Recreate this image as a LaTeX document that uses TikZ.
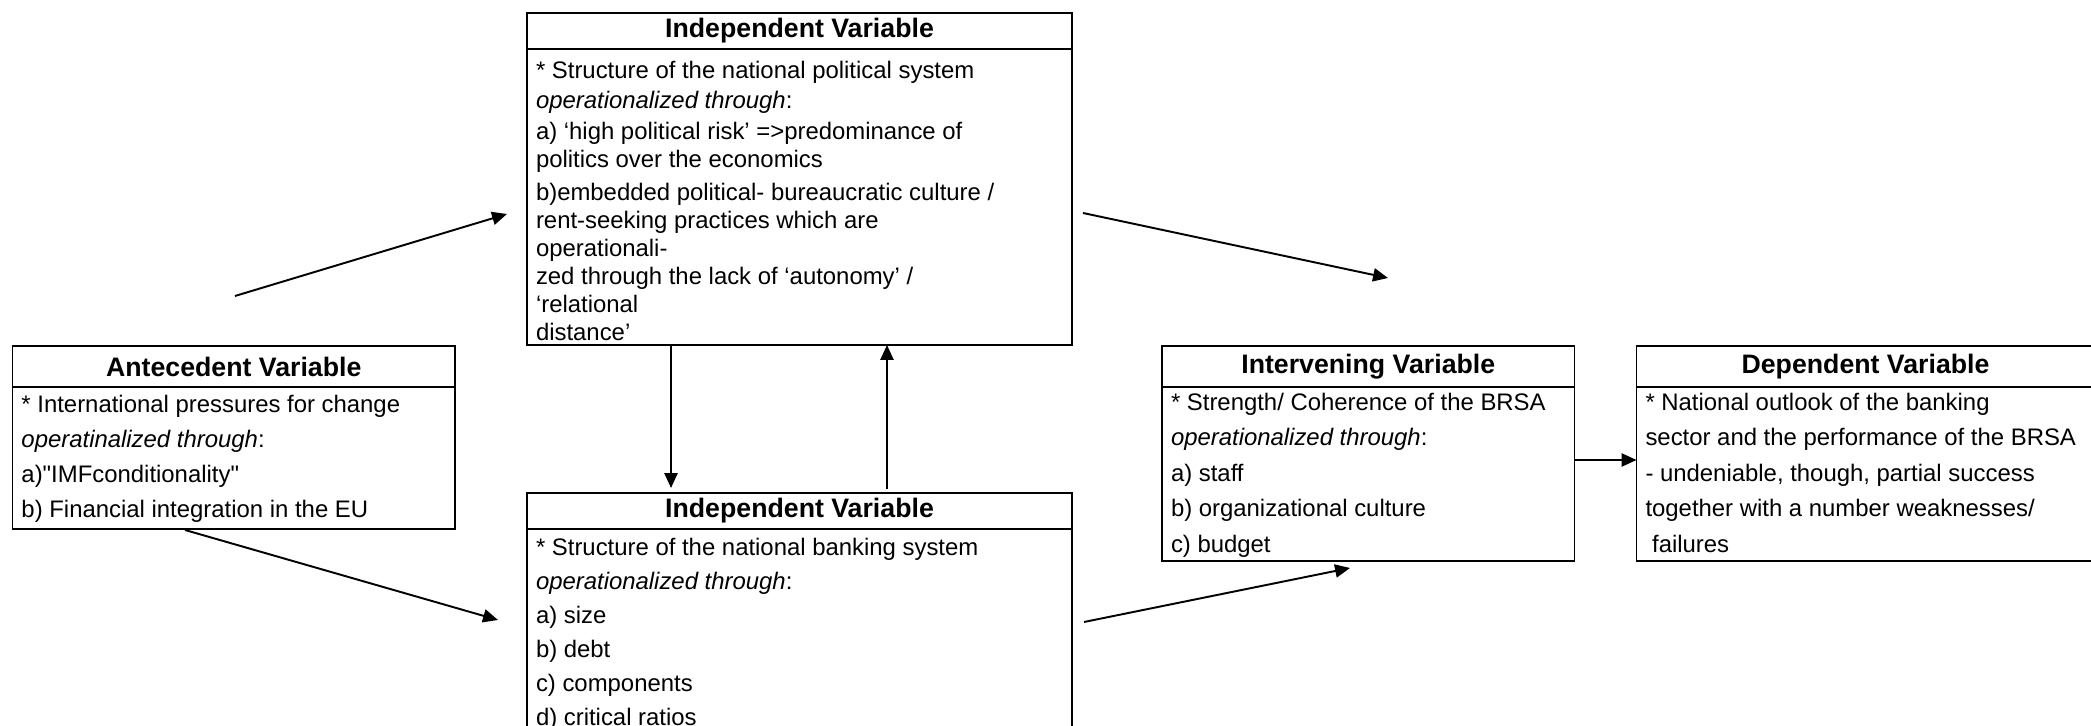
\documentclass[tikz,border=0pt]{standalone}
\usepackage{fontspec}
\setmainfont{Liberation Sans}
\usepackage{tikz}
\usetikzlibrary{arrows.meta, positioning, backgrounds}

\begin{document}
\begin{tikzpicture}[
		  background rectangle/.style={fill=white},
		  show background rectangle,
		  inner frame sep=0pt,
		  line width=1.1pt,
		  vartitle/.style={
		    draw,
		    inner sep=0pt,
		    outer sep=0pt,
		    minimum height=0.82cm,
		    font=\fontsize{15.2}{18}\selectfont\bfseries
		  },
		  varbody/.style={draw, inner sep=0pt, outer sep=0pt},
		  vartext/.style={align=left, inner sep=0pt, outer sep=0pt, font=\fontsize{13.6}{#1}\selectfont},
		  arrow/.style={-{Triangle[length=8.5pt,width=7.5pt]}, line width=1.1pt}
		]

		\useasboundingbox (0,0) rectangle (41.82,14.52);
		\clip (0,0) rectangle (41.82,14.52);

		% --- independent variable (politics) ---
		\node[vartitle, minimum width=10.9cm, minimum height=0.72cm, anchor=north west] (polit) at (10.54,14.26) {Independent Variable};
		\node[varbody, minimum width=10.9cm, minimum height=5.92cm, below=0pt of polit] (politbody) {};
		\node[vartext=15.9pt, below right=0.24cm and 0.18cm of politbody.north west] (polittext) {%
		  * Structure of the national political system\\[1.5pt]
		  \textit{operationalized through}:\\[1.5pt]
		  a) ‘high political risk’ =>predominance of\\
		  politics over the economics\\[3pt]
		  b)embedded political- bureaucratic culture /\\
		  rent-seeking practices which are\\
		  operationali-\\
		  zed through the lack of ‘autonomy’ /\\
		  ‘relational\\
		  distance’};

		% --- antecedent variable ---
		\node[vartitle, minimum width=8.85cm, below left=0.02cm and 1.44cm of politbody.south west] (ante) {Antecedent Variable};
		\node[varbody, minimum width=8.85cm, minimum height=2.84cm, below=0pt of ante] (antebody) {};
		\node[vartext=20pt, below right=0.16cm and 0.18cm of antebody.north west] (antetext) {%
		  * International pressures for change\\
		  \textit{operatinalized through}:\\
		  a)\textquotedbl IMFconditionality\textquotedbl\\
		  b) Financial integration in the EU};

		% --- independent variable (banking) ---
		\node[vartitle, minimum width=10.9cm, minimum height=0.72cm, below=2.96cm of politbody] (bank) {Independent Variable};
		\node[varbody, minimum width=10.9cm, minimum height=4.4cm, below=0pt of bank] (bankbody) {};
		\node[vartext=19.3pt, below right=0.19cm and 0.18cm of bankbody.north west] (banktext) {%
		  * Structure of the national banking system\\
		  \textit{operationalized through}:\\
		  a) size\\
		  b) debt\\
		  c) components\\
		  d) critical ratios};

		% --- intervening variable ---
		\node[vartitle, minimum width=8.25cm, below right=0.02cm and 1.8cm of politbody.south east] (interv) {Intervening Variable};
		\node[varbody, minimum width=8.25cm, minimum height=3.48cm, below=0pt of interv] (intervbody) {};
		\node[vartext=20.2pt, below right=0.12cm and 0.18cm of intervbody.north west] (intervtext) {%
		  * Strength/ Coherence of the BRSA\\
		  \textit{operationalized through}:\\
		  a) staff\\
		  b) organizational culture\\
		  c) budget};

		% --- dependent variable ---
		\node[vartitle, minimum width=9.16cm, right=1.24cm of interv] (dep) {Dependent Variable};
		\node[varbody, minimum width=9.16cm, minimum height=3.48cm, below=0pt of dep] (depbody) {};
		\node[vartext=20.2pt, below right=0.12cm and 0.18cm of depbody.north west] (deptext) {%
		  * National outlook of the banking\\
		  sector and the performance of the BRSA\\
		  - undeniable, though, partial success\\
		  together with a number weaknesses/\\
		  \ failures};

		% --- arrow ends ---
		\coordinate (anteout1) at (4.70,8.60);
		\coordinate (politin) at (10.14,10.24);
		\coordinate (anteout2) at (3.70,3.92);
		\coordinate (bankin) at (9.96,2.12);
		\coordinate (politout) at (21.66,10.26);
		\coordinate (politfree) at (27.76,8.96);
		\coordinate (bankout) at (21.68,2.08);
		\coordinate (intervin) at (27.00,3.16);

		% --- arrows ---
		\draw[arrow] (anteout1) -- (politin);
		\draw[arrow] (anteout2) -- (bankin);

		\draw[arrow, shorten >=0.1cm] ([xshift=-2.57cm]politbody.south) -- ([xshift=-2.57cm]bank.north);
		\draw[arrow, shorten <=0.08cm] ([xshift=1.75cm]bank.north) -- ([xshift=1.75cm]politbody.south);

		\draw[arrow] (politout) -- (politfree);
		\draw[arrow] (bankout) -- (intervin);
		\draw[arrow] ([yshift=0.28cm]intervbody.east) -- ([yshift=0.28cm]depbody.west);

		\end{tikzpicture}
\end{document}
